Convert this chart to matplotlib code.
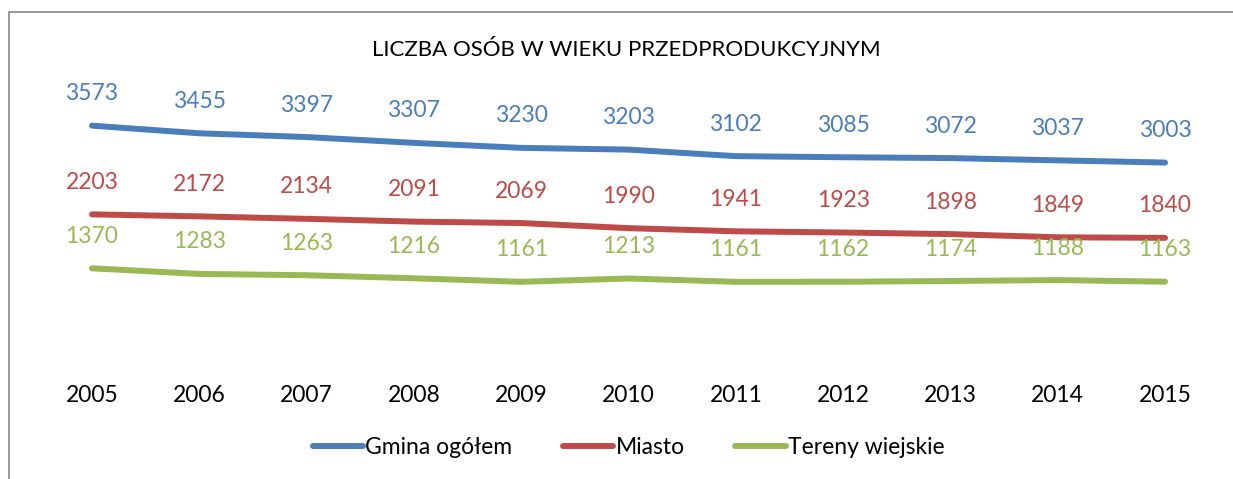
import matplotlib as mpl
mpl.use('Agg')
import matplotlib.pyplot as plt
from matplotlib.patches import Rectangle

years = ['2005', '2006', '2007', '2008', '2009', '2010', '2011', '2012', '2013', '2014', '2015']
gmina = [3573, 3455, 3397, 3307, 3230, 3203, 3102, 3085, 3072, 3037, 3003]
miasto = [2203, 2172, 2134, 2091, 2069, 1990, 1941, 1923, 1898, 1849, 1840]
wies = [1370, 1283, 1263, 1216, 1161, 1213, 1161, 1162, 1174, 1188, 1163]

series = [
    ('Gmina ogółem', gmina, '#4A7EBB'),
    ('Miasto', miasto, '#BE4B48'),
    ('Tereny wiejskie', wies, '#98B954'),
]

plt.rcParams['font.family'] = ['Lato', 'DejaVu Sans']

fig = plt.figure(figsize=(12.33, 4.79), dpi=100)
ax = fig.add_axes([0.0311, 0.2547, 0.9573, 0.5407])

x = list(range(len(years)))
for name, vals, col in series:
    ax.plot(x, vals, color=col, lw=4.3, solid_capstyle='round', label=name)
    for xi, v in zip(x, vals):
        ax.annotate(str(v), (xi, v), xytext=(0, 23), textcoords='offset points',
                    ha='center', va='center', color=col, fontsize=16.5,
                    annotation_clip=False)

ax.set_xlim(-0.5, len(years) - 0.5)
ax.set_ylim(0, 4000)
ax.set_xticks(x)
ax.set_xticklabels(years, fontsize=16.5)
ax.tick_params(axis='x', length=0, pad=20)
ax.set_yticks([])
for s in ax.spines.values():
    s.set_visible(False)

fig.text(0.508, 0.895, 'LICZBA OSÓB W WIEKU PRZEDPRODUKCYJNYM', ha='center', va='center', fontsize=16)

leg = ax.legend(loc='center', bbox_to_anchor=(0.5, -0.35), ncol=3, frameon=False,
                fontsize=16.5, handlelength=2.2, handletextpad=0.1, columnspacing=2.2)

fig.add_artist(Rectangle((9 / 1233, -0.1), 1.2, 1 - 12 / 479 + 0.1, transform=fig.transFigure,
                         fill=False, edgecolor='#888888', lw=1.2))

plt.savefig('out.png', dpi=100)
